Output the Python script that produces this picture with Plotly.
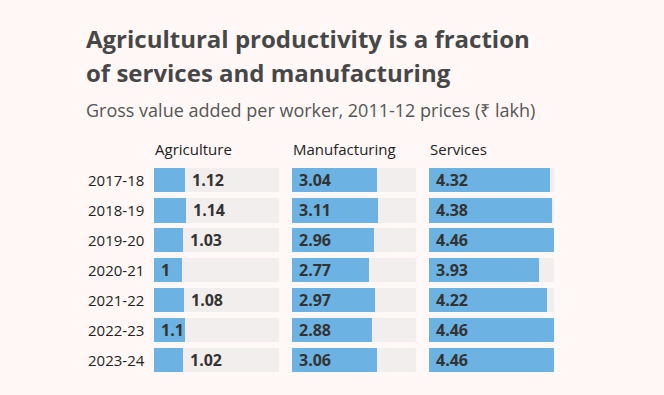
import plotly.graph_objects as go

years = ["2017-18", "2018-19", "2019-20", "2020-21", "2021-22", "2022-23", "2023-24"]
agriculture = [1.12, 1.14, 1.03, 1.0, 1.08, 1.1, 1.02]
manufacturing = [3.04, 3.11, 2.96, 2.77, 2.97, 2.88, 3.06]
services = [4.32, 4.38, 4.46, 3.93, 4.22, 4.46, 4.46]
sectors = ["Agriculture", "Manufacturing", "Services"]

W, H = 664, 395
BG = "#fff8f7"
TRACK = "#f3eeee"
BLUE = "#6cb2e2"
FONT = "Open Sans"

vmax = max(agriculture + manufacturing + services)
series = [agriculture, manufacturing, services]
col_px = [(154, 279), (292, 416), (429, 554)]
axis_names = ["x", "x2", "x3"]

def px_x(p):
    return p / W

def px_y(p):
    return (H - p) / H

fig = go.Figure()
annotations = []

def fmt(v):
    s = f"{v:.2f}".rstrip("0").rstrip(".")
    return s

def est_width(s):
    return sum(5 if c == "1" else 4 if c == "." else 9 for c in s)

for i, (vals, name, ax) in enumerate(zip(series, sectors, axis_names)):
    fig.add_trace(go.Bar(
        x=[vmax] * len(years), y=years, orientation="h",
        marker=dict(color=TRACK, line=dict(width=0)), width=0.833,
        xaxis=ax, yaxis="y", hoverinfo="skip", showlegend=False,
    ))
    fig.add_trace(go.Bar(
        x=vals, y=years, orientation="h",
        marker=dict(color=BLUE, line=dict(width=0)), width=0.833,
        xaxis=ax, yaxis="y", name=name, showlegend=False,
    ))
    x0, x1 = col_px[i]
    for y, v in zip(years, vals):
        t = fmt(v)
        bar_px = v / vmax * (x1 - x0)
        inside = est_width(t) + 12 <= bar_px
        annotations.append(dict(
            x=0 if inside else v, y=y, xref=ax, yref="y",
            text=f"<b>{t}</b>", showarrow=False, xanchor="left", yanchor="middle",
            xshift=5, font=dict(family=FONT, size=16, color="#333333"),
        ))
    annotations.append(dict(
        x=px_x(x0), y=px_y(149), xref="paper", yref="paper", text=name,
        showarrow=False, xanchor="left", yanchor="middle", xshift=-1,
        font=dict(family=FONT, size=15, color="#222222"),
    ))

for y in years:
    annotations.append(dict(
        x=px_x(86), y=y, xref="paper", yref="y", text=y, showarrow=False,
        xanchor="left", yanchor="middle",
        font=dict(family=FONT, size=15, color="#222222"),
    ))

annotations.append(dict(
    x=px_x(84), y=px_y(39), xref="paper", yref="paper",
    text="<b>Agricultural productivity is a fraction</b>", showarrow=False,
    xanchor="left", yanchor="middle",
    font=dict(family=FONT, size=24, color="#474747"),
))
annotations.append(dict(
    x=px_x(84), y=px_y(72.5), xref="paper", yref="paper",
    text="<b>of services and manufacturing</b>", showarrow=False,
    xanchor="left", yanchor="middle",
    font=dict(family=FONT, size=24, color="#474747"),
))
annotations.append(dict(
    x=px_x(84), y=px_y(109.5), xref="paper", yref="paper",
    text="Gross value added per worker, 2011-12 prices (₹ lakh)", showarrow=False,
    xanchor="left", yanchor="middle",
    font=dict(family=FONT, size=18, color="#555555"),
))

layout_axes = {}
for i, ax in enumerate(axis_names):
    key = "xaxis" if i == 0 else f"xaxis{i+1}"
    x0, x1 = col_px[i]
    layout_axes[key] = dict(
        domain=[px_x(x0), px_x(x1)], range=[0, vmax], anchor="y",
        showgrid=False, zeroline=False, showticklabels=False, showline=False,
        fixedrange=True,
    )

fig.update_layout(
    width=W, height=H,
    margin=dict(l=0, r=0, t=0, b=0),
    paper_bgcolor=BG, plot_bgcolor=BG,
    barmode="overlay", bargap=0,
    yaxis=dict(
        type="category", categoryorder="array", categoryarray=years,
        autorange="reversed", domain=[px_y(375), px_y(165)],
        showgrid=False, zeroline=False, showticklabels=False, showline=False,
        fixedrange=True,
    ),
    annotations=annotations,
)
fig.update_layout(**layout_axes)

fig.write_html(
    "out.html",
    config={"displayModeBar": False},
    post_script=(
        "document.body.style.margin='0';"
        "document.body.style.padding='0';"
        "document.body.style.overflow='hidden';"
        "document.body.style.background='" + BG + "';"
    ),
)
